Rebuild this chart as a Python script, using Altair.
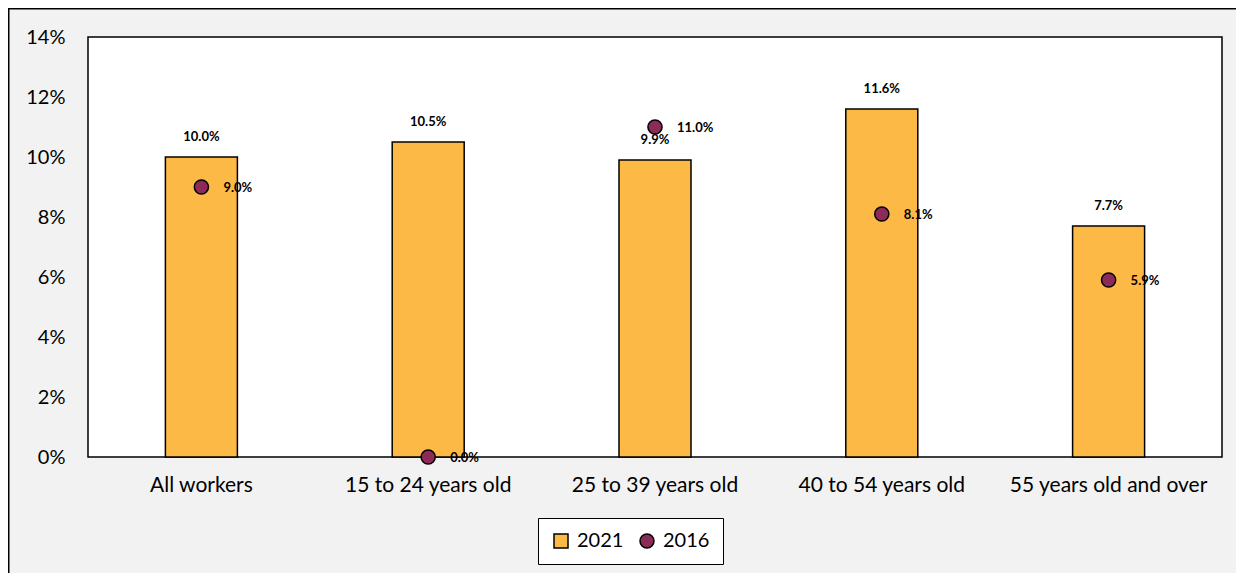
import altair as alt
import pandas as pd

categories = ["All workers", "15 to 24 years old", "25 to 39 years old",
              "40 to 54 years old", "55 years old and over"]
values_2021 = [10.0, 10.5, 9.9, 11.6, 7.7]
values_2016 = [9.0, 0.0, 11.0, 8.1, 5.9]
series = ["2021", "2016"]
y_ticks = [0, 0.02, 0.04, 0.06, 0.08, 0.10, 0.12, 0.14]

BAR = "#FDB945"
DOT = "#8C2B57"
FONT = "Lato"

rows = []
for c, v in zip(categories, values_2021):
    rows.append({"category": c, "series": "2021", "value": v / 100})
for c, v in zip(categories, values_2016):
    rows.append({"category": c, "series": "2016", "value": v / 100})
df = pd.DataFrame(rows)

x_enc = alt.X("category:N", sort=categories, title=None,
              scale=alt.Scale(paddingInner=0, paddingOuter=0),
              axis=alt.Axis(labelAngle=0, ticks=False, domain=False, labelLimit=400,
                            labelFontSize=21, labelPadding=17, labelColor="black",
                            labelFont=FONT))
y_enc = alt.Y("value:Q", title=None,
              scale=alt.Scale(domain=[0, 0.14], nice=False),
              axis=alt.Axis(values=y_ticks, format=".0%", grid=False, ticks=False,
                            domain=False, labelFontSize=20, labelPadding=23,
                            labelColor="black", labelFont=FONT))
color_enc = alt.Color("series:N", scale=alt.Scale(domain=series, range=[BAR, DOT]),
                      title=None)
shape_enc = alt.Shape("series:N", scale=alt.Scale(domain=series, range=["square", "circle"]),
                      title=None)

base = alt.Chart(df)

bars = base.transform_filter(alt.datum.series == "2021").mark_bar(
    size=72, stroke="black", strokeWidth=1.5
).encode(x=x_enc, y=y_enc, color=color_enc)

bar_labels = base.transform_filter(alt.datum.series == "2021").mark_text(
    dy=-20, fontWeight="bold", fontSize=13, font=FONT, color="black", baseline="middle"
).encode(x=x_enc, y=y_enc, text=alt.Text("value:Q", format=".1%"))

points = base.transform_filter(alt.datum.series == "2016").mark_point(
    filled=True, size=200, stroke="black", strokeWidth=1.5, opacity=1
).encode(x=x_enc, y=y_enc, color=color_enc, shape=shape_enc)

point_labels = base.transform_filter(alt.datum.series == "2016").mark_text(
    dx=22, dy=1, align="left", baseline="middle", fontWeight="bold", fontSize=13,
    font=FONT, color="black"
).encode(x=x_enc, y=y_enc, text=alt.Text("value:Q", format=".1%"))

one = pd.DataFrame({"a": [0]})
frame_top = alt.Chart(one).mark_rule(stroke="black", strokeWidth=3).encode(
    x=alt.value(-80), x2=alt.value(1300), y=alt.value(-29))
frame_left = alt.Chart(one).mark_rule(stroke="black", strokeWidth=3).encode(
    x=alt.value(-80), y=alt.value(-29), y2=alt.value(700))

chart = alt.layer(frame_top, frame_left, bars, bar_labels, points, point_labels).properties(
    width=1134, height=420,
    autosize=alt.AutoSizeParams(type="none"),
    padding={"left": 80, "top": 29, "right": 14, "bottom": 116},
    background="#F2F2F2",
).configure_view(
    fill="white", stroke="black", strokeWidth=1.5
).configure_legend(
    orient="none", legendX=450, legendY=481, direction="horizontal",
    fillColor="white", strokeColor="black", padding=13,
    labelFontSize=20, labelFont=FONT, labelColor="black",
    symbolSize=196, symbolStrokeColor="black", symbolStrokeWidth=1.5,
    columnPadding=13, labelOffset=6
)

chart.save("out.html", embed_options={"renderer": "svg", "actions": False})
